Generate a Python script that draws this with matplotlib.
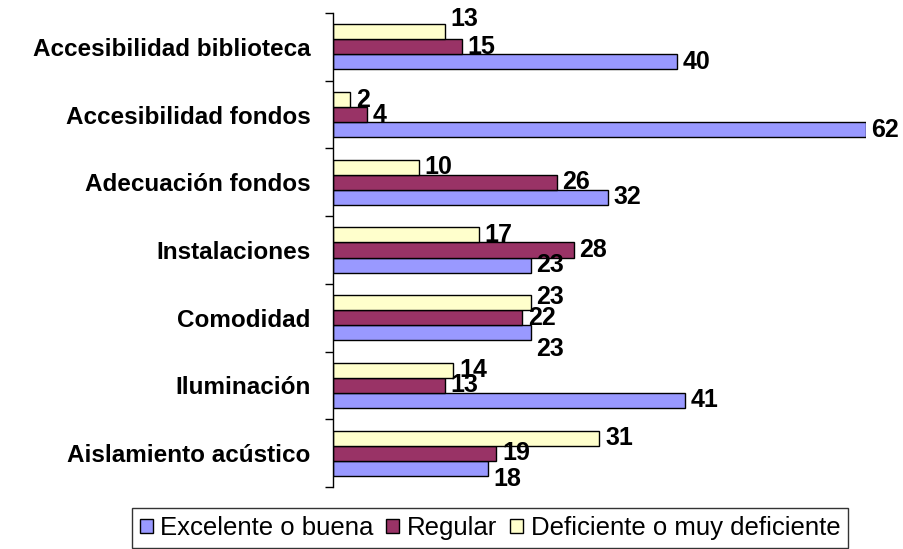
import numpy as np
import matplotlib
matplotlib.use('Agg')
import matplotlib.pyplot as plt
from matplotlib.patches import Patch

plt.rcParams['font.family'] = ['Liberation Sans', 'DejaVu Sans']

categories = ['Accesibilidad biblioteca', 'Accesibilidad fondos', 'Adecuación fondos',
              'Instalaciones', 'Comodidad', 'Iluminación', 'Aislamiento acústico']
excelente = [40, 62, 32, 23, 23, 41, 18]
regular = [15, 4, 26, 28, 22, 13, 19]
deficiente = [13, 2, 10, 17, 23, 14, 31]
series_names = ['Excelente o buena', 'Regular', 'Deficiente o muy deficiente']

colors = ['#9999FF', '#993366', '#FFFFCC']
# small vertical nudges (points) for labels that Excel moved to avoid overlap
label_dy = {(0, 2): 9, (4, 2): 4, (4, 0): -12, (6, 0): -8}

fig = plt.figure(figsize=(9.04, 5.49), dpi=100)
ax = fig.add_axes([333 / 904, 1 - 487 / 549, 533 / 904, 474 / 549])

n = len(categories)
y = np.arange(n)
h = 0.222
values = [excelente, regular, deficiente]
offsets = [h, 0, -h]

for s, (vals, off, col) in enumerate(zip(values, offsets, colors)):
    ax.barh(y + off, vals, height=h, color=col, edgecolor='black', linewidth=1.0)
    for i, v in enumerate(vals):
        dy = label_dy.get((i, s), 0)
        ax.annotate(str(v), (v, y[i] + off), xytext=(4, dy), textcoords='offset points',
                    ha='left', va='center', fontsize=18, fontweight='bold')

ax.set_xlim(0, 62)
ax.set_ylim(n - 0.5, -0.5)
ax.set_xticks([])
ax.set_yticks(y)
ax.set_yticklabels(categories, fontsize=17.5, fontweight='bold')
ax.set_yticks(np.arange(-0.5, n, 1), minor=True)
ax.tick_params(axis='y', which='major', length=0, pad=16)
ax.tick_params(axis='y', which='minor', length=6, width=1)
for sp in ['top', 'right', 'bottom']:
    ax.spines[sp].set_visible(False)
ax.spines['left'].set_linewidth(1)

handles = [Patch(facecolor=c, edgecolor='black', linewidth=1) for c in colors]
leg = fig.legend(handles, series_names, loc='center', bbox_to_anchor=(490 / 904, 1 - 528 / 549),
                 ncol=3, fontsize=18.5, frameon=True, fancybox=False, edgecolor='black',
                 handlelength=0.5, handleheight=0.5, handletextpad=0.3, columnspacing=0.5,
                 borderpad=0.3, borderaxespad=0)
leg.get_frame().set_linewidth(1)

fig.savefig('out.png', dpi=100)
